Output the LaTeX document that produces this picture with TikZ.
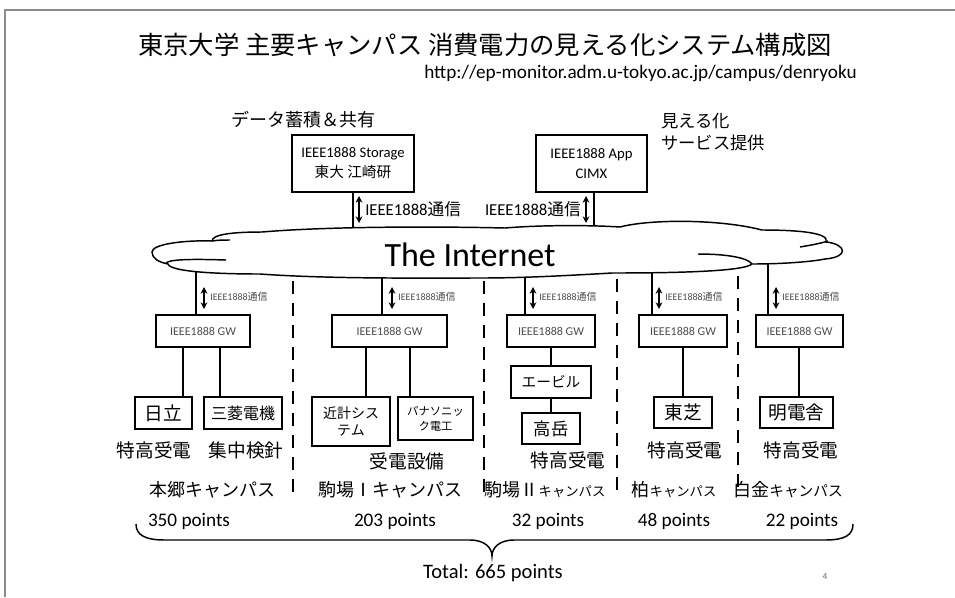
\documentclass[tikz,border=0pt]{standalone}
\usepackage{fontspec}
\setmainfont{Carlito}
\newfontfamily\jp{Noto Sans CJK JP}
\usetikzlibrary{arrows.meta}
\newcommand\fsz[2]{\fontsize{#1pt}{#2pt}\selectfont}
\def\pxu{0.75pt}
\begin{document}
\begin{tikzpicture}[x=0.75pt,y=-0.75pt,
  conn/.style={line width=1.1pt},
  dbl/.style={line width=0.9pt,{Stealth[length=5pt,width=5pt]}-{Stealth[length=5pt,width=5pt]}},
  box/.style={draw,line width=1.3pt,inner sep=0pt,align=center},
  gw/.style={box,minimum height=32*\pxu,font=\fsz{9}{11},text=black!70},
  sub/.style={box,font=\jp\fsz{14}{16}},
  small/.style={anchor=west,inner sep=0pt,font=\fsz{7.5}{9},text=black!70},
  lbl/.style={inner sep=0pt,font=\jp\fsz{14}{16}},
  camp/.style={inner sep=0pt,font=\jp\fsz{13.5}{16}},
  pts/.style={inner sep=0pt,font=\fsz{14.4}{17}},
  divider/.style={line width=1.5pt,dash pattern=on 9.75pt off 6.75pt}]
\useasboundingbox (0,0) rectangle (955,597);
% slide frame
\draw[black!45,line width=1.5pt] (5,597) -- (5,10) -- (955,10);

% title
\node[inner sep=0pt,font=\jp\fsz{19}{22}] (title) at (485,45) {東京大学 主要キャンパス 消費電力の見える化システム構成図};
\node[inner sep=0pt,anchor=east,font=\fsz{14.4}{17}] (url) at (857,73) {http://ep-monitor.adm.u-tokyo.ac.jp/campus/denryoku};

% top labels
\node[inner sep=0pt,font=\jp\fsz{13.5}{16}] (lab1) at (303,120) {データ蓄積＆共有};
\node[inner sep=0pt,anchor=west,align=left,font=\jp\fsz{13}{16.5}] (lab2) at (661,132) {見える化\\サービス提供};

% top boxes
\node[box,minimum width=122*\pxu,minimum height=57*\pxu,font=\fsz{11}{15}] (stor) at (353,163.5) {IEEE1888 Storage\\{\jp 東大 江崎研}};
\node[box,minimum width=111*\pxu,minimum height=57*\pxu,font=\fsz{11}{15}] (app) at (591.5,163.5) {IEEE1888 App\\CIMX};

% coordinates on cloud
\coordinate (cs) at (353,236);
\coordinate (ca) at (594,232);
\coordinate (k1) at (196,266);
\coordinate (k2) at (382,270);
\coordinate (k3) at (525,270);
\coordinate (k4) at (652,265);
\coordinate (k5) at (768,257);

% GW boxes
\node[gw,minimum width=94*\pxu] (gw1) at (203,331) {IEEE1888 GW};
\node[gw,minimum width=115*\pxu] (gw2) at (389.5,331) {IEEE1888 GW};
\node[gw,minimum width=88*\pxu] (gw3) at (551,331) {IEEE1888 GW};
\node[gw,minimum width=88*\pxu] (gw4) at (683,331) {IEEE1888 GW};
\node[gw,minimum width=87*\pxu] (gw5) at (799.5,331) {IEEE1888 GW};

% connectors to cloud
\draw[conn] (stor) -- (cs);
\draw[conn] (app.south -| ca) -- (ca);
\draw[conn] (k1) -- (k1 |- gw1.north);
\draw[conn] (k2) -- (k2 |- gw2.north);
\draw[conn] (k3) -- (k3 |- gw3.north);
\draw[conn] (k4) -- (k4 |- gw4.north);
\draw[conn] (k5) -- (k5 |- gw5.north);

% cloud
\draw[line width=1.1pt,fill=white]
 (152,252) .. controls (152,244) and (185,240) .. (212,241)
 .. controls (212,234) and (235,232) .. (262,232)
 .. controls (320,227) and (420,226) .. (505,228)
 .. controls (540,225) and (590,225) .. (620,227)
 .. controls (650,219) and (720,219) .. (762,230)
 .. controls (800,230) and (830,233) .. (826,242)
 .. controls (846,244) and (850,257) .. (825,259)
 .. controls (810,262) and (780,264) .. (752,264)
 .. controls (745,270) and (700,273) .. (612,273)
 .. controls (560,276) and (520,278) .. (480,278)
 .. controls (420,278) and (330,279) .. (260,274)
 .. controls (220,274) and (170,272) .. (168,264)
 .. controls (158,262) and (152,258) .. cycle;
\draw[line width=1.1pt] (226,260) .. controls (195,259) and (170,259) .. (166,263);
\draw[line width=1.1pt] (800,247) .. controls (812,245) and (822,243) .. (828,241);
\draw[line width=1.1pt] (698,254) .. controls (728,254) and (748,258) .. (752,264);
\draw[line width=1.1pt] (212,241) .. controls (218,240) and (224,240) .. (230,240);
\node[inner sep=0pt,font=\fsz{25.5}{30}] (inet) at (470,255) {The Internet};

% top arrows and labels
\coordinate (as1) at (359,196);
\coordinate (as2) at (359,223);
\draw[dbl] (as1) -- (as2);
\node[inner sep=0pt,anchor=west,font=\fsz{12.5}{15}] (ls) at (365,209) {IEEE1888{\jp 通信}};
\coordinate (aa1) at (586,196);
\coordinate (aa2) at (586,223);
\draw[dbl] (aa1) -- (aa2);
\node[inner sep=0pt,anchor=east,font=\fsz{12.5}{15}] (la) at (581,209) {IEEE1888{\jp 通信}};

% column arrows and labels
\coordinate (a1t) at (204,287); \coordinate (a1b) at (204,309);
\coordinate (a2t) at (392,287); \coordinate (a2b) at (392,309);
\coordinate (a3t) at (533,287); \coordinate (a3b) at (533,309);
\coordinate (a4t) at (659,287); \coordinate (a4b) at (659,309);
\coordinate (a5t) at (776,287); \coordinate (a5b) at (776,309);
\draw[dbl] (a1t) -- (a1b);
\draw[dbl] (a2t) -- (a2b);
\draw[dbl] (a3t) -- (a3b);
\draw[dbl] (a4t) -- (a4b);
\draw[dbl] (a5t) -- (a5b);
\node[small] (s1) at (210,297) {IEEE1888{\jp 通信}};
\node[small] (s2) at (398,297) {IEEE1888{\jp 通信}};
\node[small] (s3) at (539,297) {IEEE1888{\jp 通信}};
\node[small] (s4) at (665,297) {IEEE1888{\jp 通信}};
\node[small] (s5) at (782,297) {IEEE1888{\jp 通信}};

% dividers
\draw[divider] (293,281) -- (293,495);
\draw[divider] (484,281) -- (484,495);
\draw[divider] (617,279) -- (617,495);
\draw[divider] (738,276) -- (738,495);

% sub boxes
\node[sub,minimum width=57*\pxu,minimum height=32*\pxu] (hit) at (163.5,413) {日立};
\node[sub,minimum width=78*\pxu,minimum height=32*\pxu,font=\jp\fsz{12}{14}] (mit) at (243,413) {三菱電機};
\node[sub,minimum width=78*\pxu,minimum height=49*\pxu,font=\jp\fsz{10.5}{12.75}] (kin) at (351,421.5) {近計シス\\テム};
\node[sub,minimum width=75*\pxu,minimum height=43*\pxu,font=\jp\fsz{8.5}{11}] (pan) at (435.5,418.5) {パナソニッ\\ク電工};
\node[sub,minimum width=80*\pxu,minimum height=32*\pxu,font=\jp\fsz{11}{13}] (eb) at (551,382) {エービル};
\node[sub,minimum width=58*\pxu,minimum height=31*\pxu,font=\jp\fsz{13}{15}] (tk) at (551,428.5) {高岳};
\node[sub,minimum width=58*\pxu,minimum height=31*\pxu] (tos) at (683,412.5) {東芝};
\node[sub,minimum width=73*\pxu,minimum height=31*\pxu] (mei) at (796.5,412.5) {明電舎};

\coordinate (x183) at (183,0);
\coordinate (x220) at (220,0);
\coordinate (x366) at (366,0);
\coordinate (x410) at (410,0);
\coordinate (x799) at (799,0);
\draw[conn] (gw1.south -| x183) -- (hit.north -| x183);
\draw[conn] (gw1.south -| x220) -- (mit.north -| x220);
\draw[conn] (gw2.south -| x366) -- (kin.north -| x366);
\draw[conn] (gw2.south -| x410) -- (pan.north -| x410);
\draw[conn] (gw3) -- (eb);
\draw[conn] (eb) -- (tk);
\draw[conn] (gw4) -- (tos);
\draw[conn] (gw5.south -| x799) -- (mei.north -| x799);

% labels under boxes
\node[lbl] (t1) at (154,450) {特高受電};
\node[lbl] (t2) at (246,450) {集中検針};
\node[lbl] (t3) at (407,461) {受電設備};
\node[lbl] (t4) at (568,460) {特高受電};
\node[lbl] (t5) at (685,450) {特高受電};
\node[lbl] (t6) at (801,450) {特高受電};

% campus names
\node[camp] (c1) at (212,490) {本郷キャンパス};
\node[camp] (c2) at (390,490) {駒場Ⅰキャンパス};
\node[camp] (c3) at (545,490) {駒場Ⅱ{\fsz{10}{12}キャンパス}};
\node[camp] (c4) at (674,490) {柏{\fsz{10}{12}キャンパス}};
\node[camp] (c5) at (788,490) {白金{\fsz{11}{13}キャンパス}};

% points
\node[pts] (p1) at (189,521) {350 points};
\node[pts] (p2) at (395,521) {203 points};
\node[pts] (p3) at (548,521) {32 points};
\node[pts] (p4) at (674,521) {48 points};
\node[pts] (p5) at (802,521) {22 points};

% brace
\draw[line width=1.1pt] (136,524) .. controls (136,535) and (145,540) .. (165,540)
  -- (470,540) .. controls (485,540) and (492,548) .. (492,556)
  .. controls (492,548) and (499,540) .. (514,540)
  -- (825,540) .. controls (845,540) and (853,535) .. (853,524);

\node[inner sep=0pt,font=\fsz{15.4}{18}] (total) at (493,573) {Total: 665 points};
\node[inner sep=0pt,font=\fsz{7}{8},text=black!60] (pg) at (825,576) {4};
\end{tikzpicture}
\end{document}
